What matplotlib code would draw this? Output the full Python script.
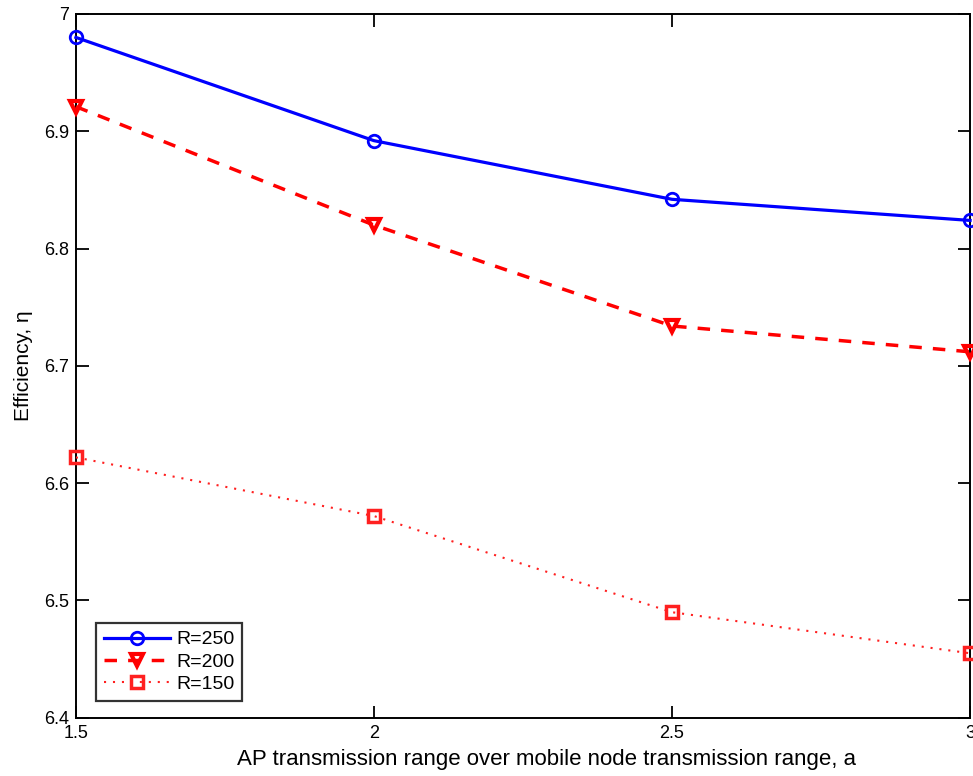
import matplotlib
matplotlib.use("Agg")
import matplotlib.pyplot as plt

plt.rcParams['font.family'] = ['Liberation Sans', 'DejaVu Sans']

a_vals = [1.5, 2.0, 2.5, 3.0]
r250 = [6.980, 6.892, 6.842, 6.824]
r200 = [6.921, 6.820, 6.734, 6.712]
r150 = [6.622, 6.572, 6.490, 6.455]

xticks = [1.5, 2, 2.5, 3]
xticklabels = ["1.5", "2", "2.5", "3"]
yticks = [6.4, 6.5, 6.6, 6.7, 6.8, 6.9, 7.0]
yticklabels = ["6.4", "6.5", "6.6", "6.7", "6.8", "6.9", "7"]

fig = plt.figure(figsize=(9.73, 7.76), dpi=100)
ax = fig.add_axes([0.078, 0.075, 0.919, 0.907])

ax.plot(a_vals, r250, color='#0000ff', linestyle='-', linewidth=2.3,
        marker='o', markersize=9, markerfacecolor='none', markeredgewidth=2,
        label='R=250', clip_on=False, zorder=3)
ax.plot(a_vals, r200, color='#ff0000', linestyle=(0, (3.6, 3.2)), linewidth=2.5,
        marker='v', markersize=9, markerfacecolor='none', markeredgewidth=3,
        label='R=200', clip_on=False, zorder=3)
ax.plot(a_vals, r150, color='#ff2020', linestyle=(0, (1, 3.3)), linewidth=1.5,
        marker='s', markersize=8, markerfacecolor='none', markeredgewidth=2.5,
        label='R=150', clip_on=False, zorder=3)

ax.set_xlim(1.5, 3)
ax.set_ylim(6.4, 7.0)
ax.set_xticks(xticks)
ax.set_xticklabels(xticklabels)
ax.set_yticks(yticks)
ax.set_yticklabels(yticklabels)
ax.tick_params(direction='in', top=True, right=True, length=9, width=1.3,
               labelsize=13, pad=5)
for s in ax.spines.values():
    s.set_linewidth(1.4)

ax.set_xlabel('AP transmission range over mobile node transmission range, a', fontsize=16)
ax.xaxis.set_label_coords(0.526, -0.045)
ax.set_ylabel('Efficiency, η', fontsize=15, labelpad=8)

leg = ax.legend(loc='lower left', fontsize=14, frameon=True, fancybox=False,
                edgecolor='black', handlelength=3.4, borderpad=0.4,
                labelspacing=0.25, handletextpad=0.3, bbox_to_anchor=(0.012, 0.01))
leg.get_frame().set_linewidth(1.6)

fig.savefig('out.png', dpi=100)
